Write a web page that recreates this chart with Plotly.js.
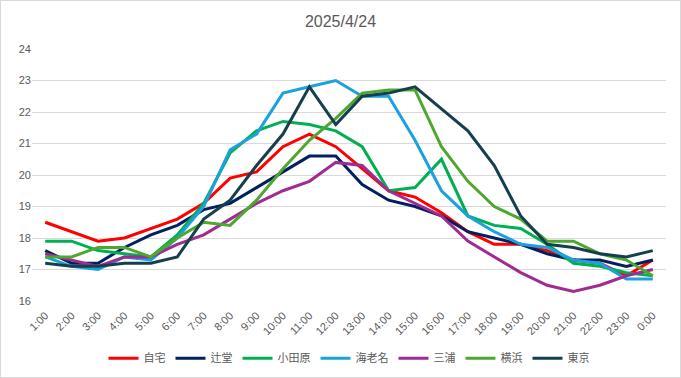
<!DOCTYPE html>
<html>
<head>
<meta charset="utf-8">
<script src="https://cdn.plot.ly/plotly-3.0.1.min.js"></script>
<style>
html,body{margin:0;padding:0;background:#fff;}
#chart{width:681px;height:378px;box-sizing:border-box;border:1px solid #D9D9D9;}
</style>
</head>
<body>
<div id="chart"></div>
<script>
const hours = ["1:00","2:00","3:00","4:00","5:00","6:00","7:00","8:00","9:00","10:00","11:00","12:00","13:00","14:00","15:00","16:00","17:00","18:00","19:00","20:00","21:00","22:00","23:00","0:00"];
const jitaku   = [18.5,18.2,17.9,18.0,18.3,18.6,19.1,19.9,20.1,20.9,21.3,20.9,20.2,19.5,19.3,18.8,18.2,17.8,17.8,17.6,17.3,17.2,16.8,17.3];
const tsujido  = [17.6,17.2,17.2,17.7,18.1,18.4,18.9,19.1,19.6,20.1,20.6,20.6,19.7,19.2,19.0,18.7,18.2,18.0,17.8,17.5,17.3,17.3,17.1,17.3];
const odawara  = [17.9,17.9,17.6,17.5,17.4,18.1,19.1,20.7,21.4,21.7,21.6,21.4,20.9,19.5,19.6,20.5,18.7,18.4,18.3,17.8,17.2,17.1,16.9,16.8];
const ebina    = [17.4,17.1,17.0,17.4,17.3,18.0,19.0,20.8,21.3,22.6,22.8,23.0,22.5,22.5,21.1,19.5,18.7,18.2,17.8,17.7,17.3,17.2,16.7,16.7];
const miura    = [17.5,17.3,17.1,17.4,17.4,17.8,18.1,18.6,19.1,19.5,19.8,20.4,20.3,19.5,19.1,18.7,17.9,17.4,16.9,16.5,16.3,16.5,16.8,17.0];
const yokohama = [17.4,17.4,17.7,17.7,17.4,18.0,18.5,18.4,19.2,20.2,21.1,21.8,22.6,22.7,22.7,20.9,19.8,19.0,18.6,17.9,17.9,17.5,17.3,16.8];
const tokyo    = [17.2,17.1,17.1,17.2,17.2,17.4,18.6,19.2,20.3,21.3,22.8,21.6,22.5,22.6,22.8,22.1,21.4,20.3,18.7,17.8,17.7,17.5,17.4,17.6];

const names  = ["自宅","辻堂","小田原","海老名","三浦","横浜","東京"];
const series = [jitaku,tsujido,odawara,ebina,miura,yokohama,tokyo];
const colors = ["#FF0000","#002060","#00B050","#1BA1DD","#A02B93","#4EA72E","#163F4E"];

const traces = series.map((s,i)=>({
  type:"scatter", mode:"lines", name:names[i], x:hours, y:s,
  line:{color:colors[i], width:3}
}));

const font = "'Noto Sans CJK JP', 'Liberation Sans', sans-serif";
const tfont = "'Liberation Sans', Arial, sans-serif";
const layout = {
  width:679, height:376,
  margin:{l:31, r:14, t:48, b:76, autoexpand:false},
  paper_bgcolor:"#fff", plot_bgcolor:"#fff",
  font:{family:font, size:11, color:"#595959"},
  title:{text:"2025/4/24", x:0.5, xanchor:"center", y:0.945, yanchor:"middle", font:{family:tfont, size:16, color:"#595959"}},
  xaxis:{type:"category", range:[-0.5,23.5], tickangle:-45, showgrid:false, zeroline:false, showline:false, ticks:"", ticklabelstandoff:5, automargin:false, tickfont:{family:tfont, size:11,color:"#595959"}},
  yaxis:{range:[16,24], dtick:1, showgrid:true, gridcolor:"#D9D9D9", gridwidth:1, zeroline:false, showline:false, ticks:"", automargin:false, tickfont:{family:tfont, size:11,color:"#595959"}},
  legend:{orientation:"h", x:0.5, xanchor:"center", yref:"container", y:0.05, yanchor:"middle", font:{family:font, size:11, color:"#595959"}, itemwidth:30, tracegroupgap:0},
  showlegend:true
};
Plotly.newPlot("chart", traces, layout, {displayModeBar:false, staticPlot:true});
</script>
</body>
</html>
